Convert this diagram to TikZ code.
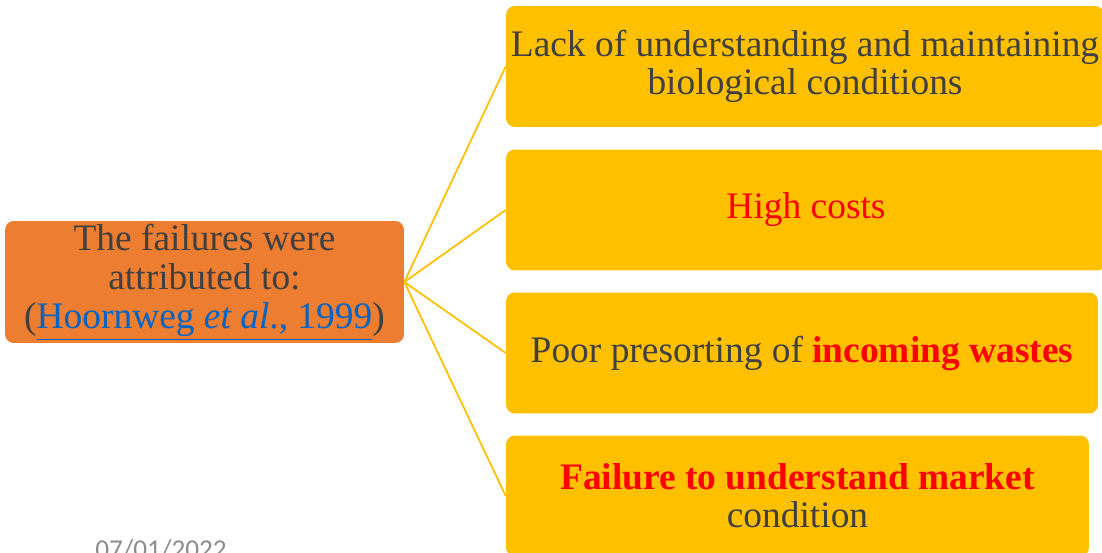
\documentclass[tikz,border=0pt]{standalone}
\usepackage{fontspec}
\setmainfont{Liberation Serif}
\newfontfamily\datefont{Carlito}
\usetikzlibrary{positioning}

\definecolor{causeorange}{HTML}{ED7D31}
\definecolor{reasongold}{HTML}{FFC000}
\definecolor{bodygray}{HTML}{404040}
\definecolor{citeblue}{HTML}{0563C1}
\definecolor{hotred}{HTML}{FF0000}

\begin{document}
\begin{tikzpicture}[x=0.02cm,y=-0.02cm,
    causebox/.style={fill=causeorange, rounded corners=5pt, align=center,
        minimum width=7.98cm, minimum height=2.44cm, inner sep=0pt,
        text=bodygray, font=\fontsize{21.3}{22.3}\selectfont},
    reasonbox/.style={fill=reasongold, rounded corners=5pt, align=center,
        minimum height=2.42cm, inner sep=0pt,
        text=bodygray, font=\fontsize{21.3}{21.6}\selectfont},
    link/.style={reasongold, line width=1pt}]
        % Frame
        \useasboundingbox (0,0) rectangle (1102,553);
        \clip (0,0) rectangle (1102,553);

        % Cause
        \node[causebox] (cause) at (204.5,282) {The failures were\\attributed to:\\(\textcolor{citeblue}{\underline{Hoornweg \textit{et al}., 1999}})};

        % Reasons
        \node[reasonbox, minimum width=11.96cm] (r1) at (805,66.5) {Lack of understanding and maintaining\\biological conditions};
        \node[reasonbox, minimum width=12cm] (r2) at (806,210) {\textcolor{hotred}{High costs}};
        \node[reasonbox, minimum width=11.84cm] (r3) at (802,353) {Poor presorting of \textcolor{hotred}{\textbf{incoming wastes}}};
        \node[reasonbox, minimum width=11.66cm] (r4) at (797.5,496) {\textcolor{hotred}{\textbf{Failure to understand market}}\\condition};

        % Links
        \foreach \r in {r1,r2,r3,r4}
            \draw[link] (cause.east) -- (\r.west);

        % Date
        \node[anchor=base, text=gray!90, font=\datefont\fontsize{15.5}{18}\selectfont] (date) at (161,559) {07/01/2022};
\end{tikzpicture}
\end{document}
